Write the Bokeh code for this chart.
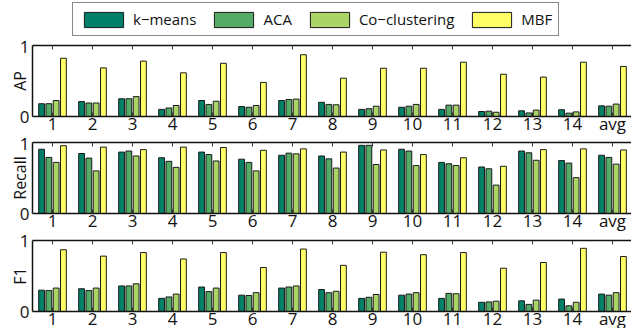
from bokeh.plotting import figure
from bokeh.layouts import column
from bokeh.models import (FixedTicker, Range1d, Legend, LegendItem, LinearAxis,
                          ColumnDataSource, CustomLabelingPolicy)
from bokeh.transform import dodge
from bokeh.embed import file_html
from bokeh.resources import INLINE

# ---------------- data ----------------
categories = ["1", "2", "3", "4", "5", "6", "7", "8", "9", "10", "11", "12", "13", "14", "avg"]
methods = ["k\u2212means", "ACA", "Co\u2212clustering", "MBF"]
colors = ["#008066", "#55AA66", "#AAD466", "#FFFF66"]

ap_kmeans = [0.18, 0.21, 0.25, 0.10, 0.225, 0.14, 0.225, 0.20, 0.10, 0.13, 0.10, 0.07, 0.08, 0.095, 0.15]
ap_aca = [0.18, 0.19, 0.25, 0.12, 0.17, 0.13, 0.24, 0.17, 0.11, 0.145, 0.16, 0.075, 0.05, 0.047, 0.145]
ap_cocl = [0.225, 0.19, 0.28, 0.155, 0.215, 0.155, 0.245, 0.165, 0.145, 0.17, 0.16, 0.06, 0.09, 0.065, 0.175]
ap_mbf = [0.82, 0.685, 0.78, 0.615, 0.75, 0.48, 0.87, 0.54, 0.68, 0.68, 0.765, 0.595, 0.555, 0.765, 0.705]

recall_kmeans = [0.905, 0.845, 0.865, 0.785, 0.865, 0.765, 0.82, 0.81, 0.96, 0.905, 0.72, 0.655, 0.88, 0.745, 0.82]
recall_aca = [0.79, 0.78, 0.88, 0.735, 0.83, 0.72, 0.85, 0.77, 0.96, 0.88, 0.70, 0.63, 0.855, 0.71, 0.79]
recall_cocl = [0.72, 0.60, 0.81, 0.65, 0.74, 0.60, 0.84, 0.64, 0.69, 0.675, 0.675, 0.40, 0.75, 0.505, 0.695]
recall_mbf = [0.955, 0.935, 0.90, 0.935, 0.93, 0.89, 0.91, 0.865, 0.895, 0.83, 0.785, 0.665, 0.90, 0.91, 0.895]

f1_kmeans = [0.30, 0.32, 0.36, 0.185, 0.345, 0.23, 0.33, 0.31, 0.185, 0.23, 0.185, 0.13, 0.15, 0.175, 0.245]
f1_aca = [0.295, 0.295, 0.36, 0.205, 0.28, 0.225, 0.345, 0.265, 0.20, 0.245, 0.255, 0.135, 0.10, 0.08, 0.23]
f1_cocl = [0.33, 0.33, 0.39, 0.245, 0.33, 0.265, 0.36, 0.285, 0.24, 0.265, 0.25, 0.145, 0.16, 0.13, 0.265]
f1_mbf = [0.87, 0.78, 0.83, 0.74, 0.83, 0.62, 0.88, 0.65, 0.835, 0.80, 0.83, 0.61, 0.69, 0.89, 0.775]

y_ticks = [0, 1]

# ---------------- styling ----------------
FONT = "Open Sans"
positions = list(range(1, len(categories) + 1))
offsets = [-0.273, -0.091, 0.091, 0.273]
BAR_W = 0.145
EDGE = "#1a1a1a"

NO_LABELS = """
const all = Array.from(indices)
for (const i of all) indices.unset(i)
return indices
"""


def panel(ylabel, series, top_border, bottom_border):
    p = figure(frame_width=599, frame_height=71,
               x_range=Range1d(0.5, 15.475), y_range=Range1d(0, 1),
               output_backend="svg", toolbar_location=None,
               x_axis_location=None, y_axis_location=None,
               min_border_left=32, min_border_right=0,
               min_border_top=top_border, min_border_bottom=bottom_border)
    p.outline_line_color = None
    p.background_fill_color = "white"
    p.border_fill_color = "white"
    for g in p.grid:
        g.visible = False

    xb = LinearAxis(ticker=FixedTicker(ticks=positions),
                    major_label_overrides={pos: c for pos, c in zip(positions, categories)},
                    major_tick_in=4, major_tick_out=0, minor_tick_line_color=None,
                    axis_line_width=1.5, axis_line_color="#111111",
                    major_tick_line_color="#333333",
                    major_label_text_font=FONT, major_label_text_font_size="17px",
                    major_label_text_color="#111111", major_label_standoff=-5)
    p.add_layout(xb, "below")

    xt = LinearAxis(ticker=FixedTicker(ticks=positions),
                    major_tick_in=4, major_tick_out=0, minor_tick_line_color=None,
                    axis_line_width=1.5, axis_line_color="#111111",
                    major_tick_line_color="#333333",
                    major_label_policy=CustomLabelingPolicy(code=NO_LABELS),
                    major_label_text_font_size="1px", major_label_standoff=0)
    p.add_layout(xt, "above")

    yl = LinearAxis(ticker=FixedTicker(ticks=y_ticks),
                    major_tick_in=0, major_tick_out=0, minor_tick_line_color=None,
                    axis_line_width=1.5, axis_line_color="#111111",
                    major_label_text_font=FONT, major_label_text_font_size="17px",
                    major_label_text_color="#111111", major_label_standoff=3,
                    axis_label=ylabel, axis_label_text_font=FONT,
                    axis_label_text_font_size="16px", axis_label_text_font_style="normal",
                    axis_label_text_color="#111111", axis_label_standoff=-14)
    p.add_layout(yl, "left")

    src = ColumnDataSource(dict(x=positions, s0=series[0], s1=series[1],
                                s2=series[2], s3=series[3]))
    for k in range(4):
        p.vbar(x=dodge("x", offsets[k], range=p.x_range), top="s%d" % k, width=BAR_W,
               source=src, fill_color=colors[k], line_color=EDGE, line_width=1)
    return p


# legend strip (its frame is aligned with the panels' frames by the column layout)
lf = figure(width=631, height=40, x_range=Range1d(0, 1), y_range=Range1d(0, 1),
            output_backend="svg", toolbar_location=None,
            x_axis_location=None, y_axis_location=None,
            min_border_left=0, min_border_right=0, min_border_top=0, min_border_bottom=0)
lf.outline_line_color = None
for g in lf.grid:
    g.visible = False
items = []
for name, c in zip(methods, colors):
    r = lf.vbar(x=[-5], top=[0], width=0.1, fill_color=c, line_color=EDGE, line_width=1)
    items.append(LegendItem(label=name, renderers=[r]))
leg = Legend(items=items, orientation="horizontal", location=(40, 4),
             glyph_width=49, glyph_height=19, label_standoff=5, spacing=13,
             padding=6, margin=0, border_line_color="#111111", border_line_width=1,
             label_text_font=FONT, label_text_font_size="15px",
             label_text_color="#111111", background_fill_alpha=1)
lf.add_layout(leg, "center")

p1 = panel("AP", [ap_kmeans, ap_aca, ap_cocl, ap_mbf], 5, 18)
p2 = panel("Recall", [recall_kmeans, recall_aca, recall_cocl, recall_mbf], 5, 18)
p3 = panel("F1", [f1_kmeans, f1_aca, f1_cocl, f1_mbf], 6, 18)

layout = column(lf, p1, p2, p3, spacing=0)

open("out.html", "w").write(file_html(layout, INLINE))
